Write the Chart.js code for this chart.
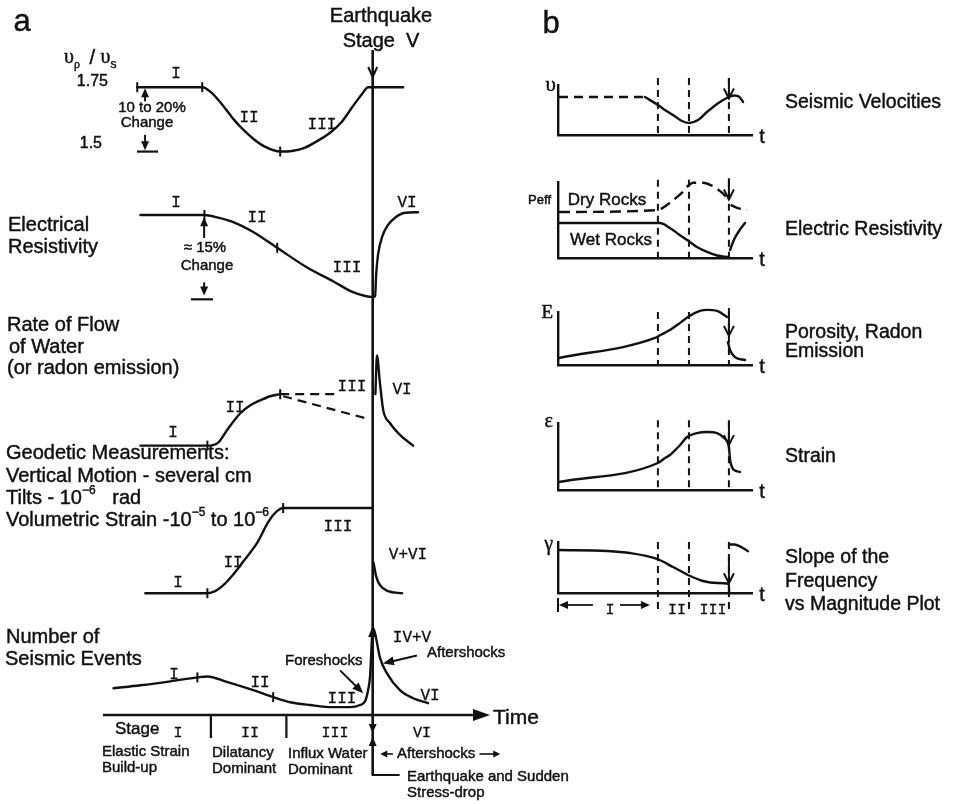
<!DOCTYPE html>
<html>
<head>
<meta charset="utf-8">
<title>Dilatancy-diffusion model: precursory phenomena</title>
<script src="https://cdn.jsdelivr.net/npm/chart.js@4.4.1/dist/chart.umd.min.js"></script>
<style>
  html, body { margin:0; padding:0; background:#fff; }
  #wrap { position:relative; width:958px; height:804px; background:#fff; overflow:hidden; }
  #wrap canvas { position:absolute; left:0; top:0; }
</style>
</head>
<body>
<div id="wrap">
  <canvas id="ca" width="958" height="804"></canvas>
  <canvas id="cb1" width="958" height="804"></canvas>
  <canvas id="cb2" width="958" height="804"></canvas>
  <canvas id="cb3" width="958" height="804"></canvas>
  <canvas id="cb4" width="958" height="804"></canvas>
  <canvas id="cb5" width="958" height="804"></canvas>
</div>
<script>
// ======================= DATA =======================
// ---- Part a : time in arbitrary units (0 = start of time axis, 100 = earthquake) ----
const aStageBounds = [40, 68, 100];          // start of stage II, start of stage III, earthquake
const aTimeMax = 143.5;
const aStageNames = ['I', 'II', 'III', 'VI'];
const aStageNameTimes = [27.8, 54.5, 86, 118.3];

// vp / vs ratio
const vpvs = [[12.7,1.75],[36.8,1.75],[40,1.731],[44,1.685],[48.3,1.627],[52,1.585],[55.7,1.55],[60,1.519],
  [65.7,1.5],[70,1.502],[74.2,1.512],[79,1.538],[84.2,1.573],[88.5,1.615],[92.7,1.677],[96,1.723],[98.3,1.75],[111.3,1.75]];
const vpvsTicks = [[12.7,1.75],[36.8,1.75],[65.7,1.5]];

// electrical resistivity (% of initial value)
const resistivity = [[13.9,100],[37.6,100],[42.7,99.5],[48.3,98.7],[55.7,96.9],[64.6,94.0],[75.7,90.4],[85.3,87.9],
  [92.7,85.9],[97.2,85.2],[100.1,85.0],[100.9,85.2],[101.3,89.2],[102,92.8],[103.5,96.0],[105.7,98.2],[108.3,99.5],[112,100.4],[116.8,100.5]];
const resistivityTicks = [[37.6,100],[64.6,94.0]];

// rate of flow of water (relative)
const flowRise = [[13.9,1.0],[38.7,1.0],[42.7,1.06],[46.1,1.31],[50.9,1.63],[54.5,1.78],[58.3,1.88],[62,1.96],[65.7,2.0]];
const flowUpper = [[65.7,2.0],[86.8,2.0]];
const flowLower = [[66.8,1.96],[98.3,1.52]];
const flowAfter = [[101.0,2.0],[101.6,2.75],[102.7,2.21],[103.9,1.69],[106.4,1.44],[110.1,1.21],[115,1.0]];
const flowTicks = [[38.7,1.0],[65.7,2.0]];

// geodetic (vertical motion, cm)
const geoBefore = [[15.7,0],[38.7,0],[41.6,0.12],[44.2,0.41],[48.3,1.10],[52,1.86],[57.2,2.97],[61.3,4.19],[64.2,4.77],[66.8,5.0],[99.8,5.0]];
const geoAfter = [[100.3,1.8],[101.3,0.99],[102.7,0.47],[105.7,0.12],[110.9,0]];
const geoTicks = [[38.7,0],[66.8,5.0]];

// number of seismic events
const seismic = [[3.9,14.2],[13.9,15.8],[25,17.9],[35,20],[38.7,20.5],[45.3,17.9],[55.7,13.2],[63.1,9.5],[69.4,6.8],[76.8,5.3],
  [85.3,4.2],[91.6,4.2],[95.3,5.3],[97.2,7.4],[98.3,13.2],[99.0,20],[100.1,46.3],[100.9,43.2],[102.7,30.5],[105.3,22.1],[110.1,13.2],[115,8.9],[120.5,6.3]];
const seismicTicks = [[35,20],[63.1,9.5]];

// ---- Part b : time 0..100, each quantity 0..10 (axis height) ----
const bStages = [51.5, 67.5, 88.1];
const bStageNames = ['I', 'II', 'III'];
const bStageNameTimes = [26.8, 61.3, 79.9];

const velPre  = [[0.5,7.6],[44.8,7.6]];
const velMain = [[44.8,7.6],[51.5,6.0],[55.5,4.9],[59.3,4.0],[63.9,2.8],[67.5,2.4],[72.2,3.0],[76.8,4.6],[83.5,6.6],[88.1,7.6],[91,7.9],[93.5,7.6],[95.4,6.6]];
const dryPre  = [[0.5,6.05],[51,6.3],[54,6.6],[59.3,7.6],[64.4,8.7],[67.5,9.6],[69.6,9.9],[74.7,9.9],[79.4,9.5],[84.5,8.6],[87.6,7.8]];
const dryPost = [[89,7.0],[92.3,6.6],[97.4,6.3]];
const wetPre  = [[0.5,4.6],[52.6,4.6],[57.7,3.95],[62.9,3.0],[67.5,2.2],[71.6,1.45],[76.8,0.8],[82,0.33],[87.6,0.13]];
const wetPost = [[88.7,1.05],[90.7,2.4],[93.3,3.55],[96.4,4.6]];
const poroPre  = [[0.5,1.32],[50,5.1],[53,5.7],[57.7,6.6],[62,7.7],[67,9.06],[73.2,10.2],[76.8,10.4],[82,10.2],[87.1,9.06]];
const poroPost = [[87.6,4.3],[88.7,2.8],[91.2,1.5],[96.4,0.94]];
const strain = [[0.5,1.19],[51.5,4.03],[55.2,4.78],[57.7,5.22],[62.9,6.7],[66.5,7.9],[71.6,8.5],[76.8,8.66],[82,8.5],[85.6,7.76],
  [88.1,6.4],[88.7,4.5],[89.7,3.4],[91.2,2.9],[93.8,2.7]];
const slopePre  = [[0.5,8.43],[25.3,8.24],[37.1,7.84],[51,6.67],[59.3,5.1],[67,3.53],[74.7,2.35],[82,1.96],[88.1,1.76],[88.2,0]];
const slopePost = [[88.6,9.5],[91,9.5],[94,9.1],[97.9,8.2]];

// ======================= STYLE / LAYOUT =======================
const INK = '#111111';
const SANS = '"Liberation Sans", Arial, Helvetica, sans-serif';
const SERIF = '"Liberation Serif", "Times New Roman", serif';
const MONO = '"Liberation Mono", "Courier New", monospace';

// part a: plot area and, for each curve, two (value, pixel-row) anchors that place it on the page
const aLayout = { left:103, right:490, top:0, bottom:715,
  yV:[1.75,81,1.5,146], yR:[100,210,85,293], yF:[1,443,2,391], yG:[0,592,5,506], yS:[0,715,20,677] };

function axisFromAnchors(a, top, bottom) {
  const [v1, p1, v2, p2] = a;
  const upp = (v1 - v2) / (p2 - p1);
  const max = v1 + (p1 - top) * upp;
  return { min: max - (bottom - top) * upp, max };
}
const xy = arr => arr.map(([x, y]) => ({ x, y }));

function lineDs(data, yAxisID, opts = {}) {
  return { data: xy(data), yAxisID, xAxisID: 'x', borderColor: INK, borderWidth: opts.width || 2.4,
    borderDash: opts.dash || [], borderCapStyle: opts.dash ? 'butt' : 'round', borderJoinStyle: 'round',
    pointRadius: 0, fill: false, cubicInterpolationMode: 'monotone', clip: false };
}
function tickDs(data, yAxisID) {
  return { data: xy(data), yAxisID, xAxisID: 'x', showLine: false, pointStyle: 'line', rotation: 90,
    pointRadius: 5, pointBorderWidth: 2, pointBorderColor: INK, borderColor: INK, clip: false };
}

// ---------- drawing helpers ----------
function seg(ctx, x1, y1, x2, y2, w) { ctx.lineWidth = w; ctx.beginPath(); ctx.moveTo(x1, y1); ctx.lineTo(x2, y2); ctx.stroke(); }
function head(ctx, x, y, ang, len, half, filled) {
  const bx = x - len * Math.cos(ang), by = y - len * Math.sin(ang);
  const px = -Math.sin(ang) * half, py = Math.cos(ang) * half;
  ctx.beginPath(); ctx.moveTo(bx + px, by + py); ctx.lineTo(x, y); ctx.lineTo(bx - px, by - py);
  if (filled) { ctx.closePath(); ctx.fill(); } else { ctx.lineWidth = 2; ctx.stroke(); }
}
function arrow(ctx, x1, y1, x2, y2, w, len, half, filled) {
  const ang = Math.atan2(y2 - y1, x2 - x1);
  seg(ctx, x1, y1, x2 - Math.cos(ang) * (filled ? len * 0.6 : 0), y2 - Math.sin(ang) * (filled ? len * 0.6 : 0), w);
  head(ctx, x2, y2, ang, len, half, filled);
}
const TEXT_STROKE = 0.45;   // slightly heavier lettering, like the printed original
function txt(ctx, s, x, y, size, family, align, stroke) {
  ctx.font = `${size}px ${family || SANS}`;
  ctx.textAlign = align || 'left'; ctx.textBaseline = 'middle';
  ctx.fillText(s, x, y);
  const sw = stroke === undefined ? TEXT_STROKE : stroke;
  if (sw > 0) { ctx.lineWidth = sw; ctx.strokeText(s, x, y); }
}
function rich(ctx, x, y, parts, size, family) {
  let cx = x; ctx.textAlign = 'left'; ctx.textBaseline = 'middle';
  for (const p of parts) {
    const small = p.sup || p.sub;
    const sz = small ? Math.round(size * 0.62) : size;
    ctx.font = `${sz}px ${p.family || family}`;
    const dy = p.sup ? -size * 0.36 : p.sub ? size * 0.34 : 0;
    ctx.fillText(p.s, cx, y + dy);
    ctx.lineWidth = TEXT_STROKE; ctx.strokeText(p.s, cx, y + dy);
    cx += ctx.measureText(p.s).width + (p.gap || 0);
  }
}

// ---------- part a texts (page positions) ----------
const aTexts = [
  ['a', 22, 22, 31, SANS, 'center'],
  ['Earthquake', 381, 16, 20, SANS, 'center'],
  ['Stage  V', 381, 41, 20, SANS, 'center'],
  ['1.75', 108, 82, 16, SANS, 'right'],
  ['1.5', 102, 144, 16, SANS, 'right'],
  ['10 to 20%', 152, 108, 15, SANS, 'center'],
  ['Change', 147, 123, 15, SANS, 'center'],
  ['Electrical', 8, 225, 20, SANS, 'left'],
  ['Resistivity', 8, 247, 20, SANS, 'left'],
  ['\u2248 15%', 205, 248, 15, SANS, 'center'],
  ['Change', 207, 266, 15, SANS, 'center'],
  ['Rate of Flow', 7, 325, 20, SANS, 'left'],
  ['of Water', 9, 347, 20, SANS, 'left'],
  ['(or radon emission)', 7, 368, 20, SANS, 'left'],
  ['Geodetic Measurements:', 6, 453, 20, SANS, 'left'],
  ['Vertical Motion - several cm', 6, 476, 20, SANS, 'left'],
  ['Number of', 6, 637, 20, SANS, 'left'],
  ['Seismic Events', 5, 659, 20, SANS, 'left'],
  ['Foreshocks', 285, 661, 15, SANS, 'left'],
  ['Aftershocks', 427, 653, 15, SANS, 'left'],
  ['Time', 493, 718, 21, SANS, 'left'],
  ['Stage', 115, 729, 17, SANS, 'left'],
  ['Elastic Strain', 102, 752, 15, SANS, 'left'],
  ['Build-up', 102, 768, 15, SANS, 'left'],
  ['Dilatancy', 212, 753, 15, SANS, 'left'],
  ['Dominant', 212, 769, 15, SANS, 'left'],
  ['Influx Water', 288, 754, 15, SANS, 'left'],
  ['Dominant', 288, 770, 15, SANS, 'left'],
  ['Aftershocks', 397, 754, 15, SANS, 'left'],
  ['Earthquake and Sudden', 407, 777, 15, SANS, 'left'],
  ['Stress-drop', 407, 793, 15, SANS, 'left'],
];
const aRoman = [
  ['I',176,74],['II',249,118],['III',322,125],
  ['I',176,203],['II',257,218],['III',347,268],['VI',407,203],
  ['I',173,433],['II',235,408],['III',352,387],['VI',402,390],
  ['I',178,583],['II',233,563],['III',338,527],['V+VI',408,555],
  ['I',174,675],['II',260,683],['III',342,699],['VI',430,696],['IV+V',412,638],
];

const annotA = {
  id: 'annotA',
  afterDatasetsDraw(chart) {
    const ctx = chart.ctx, xs = chart.scales.x;
    const X = v => xs.getPixelForValue(v);
    const Y = (id, v) => chart.scales[id].getPixelForValue(v);
    const yAxis = aLayout.bottom;
    ctx.save();
    ctx.strokeStyle = INK; ctx.fillStyle = INK; ctx.lineCap = 'butt';
    const xEq = X(aStageBounds[2]);

    // earthquake line + arrow from "Stage V"
    seg(ctx, xEq, 50, xEq, 775, 2.6);
    head(ctx, xEq, 77, Math.PI / 2, 10, 4.5, false);
    // time axis
    arrow(ctx, X(0), yAxis, X(aTimeMax), yAxis, 2.4, 17, 6, true);
    // stage dividers
    for (const b of aStageBounds.slice(0, 2)) seg(ctx, X(b), yAxis, X(b), yAxis + 23, 2.2);
    // arrowheads on earthquake line at the axis, L-shaped pointer
    head(ctx, xEq, yAxis + 18, Math.PI / 2, 9, 4, true);
    head(ctx, xEq, yAxis + 22, -Math.PI / 2, 9, 4, true);
    seg(ctx, xEq - 1, 775, X(110), 775, 2);
    // arrow at seismic peak
    head(ctx, xEq, Y('yS', 47.3), -Math.PI / 2, 11, 4.5, true);

    // change markers (vp/vs)
    const xc1 = X(15.6);
    arrow(ctx, xc1, Y('yV', 1.695), xc1, Y('yV', 1.746), 2, 9, 4, true);
    arrow(ctx, xc1, Y('yV', 1.565), xc1, Y('yV', 1.505), 2, 9, 4, true);
    seg(ctx, X(12.6), Y('yV', 1.5), X(20.4), Y('yV', 1.5), 2.2);
    // change markers (resistivity)
    const xc2 = X(37.5);
    arrow(ctx, xc2, Y('yR', 95.8), xc2, Y('yR', 99.6), 2, 9, 4, true);
    arrow(ctx, xc2, Y('yR', 87.7), xc2, Y('yR', 85.3), 2, 9, 4, true);
    seg(ctx, X(32.6), Y('yR', 84.6), X(40.8), Y('yR', 84.6), 2.2);

    // foreshocks / aftershocks pointers
    arrow(ctx, X(87.9), Y('yS', 23.7), X(96.5), Y('yS', 11.5), 2, 11, 4.5, true);
    arrow(ctx, X(116.4), Y('yS', 31.6), X(103.8), Y('yS', 27.4), 2, 11, 4.5, true);
    // "<- Aftershocks ->" below axis
    arrow(ctx, X(107.5), 754, X(102.8), 754, 1.6, 7, 3.5, true);
    arrow(ctx, X(139.6), 754, X(147.3), 754, 1.6, 7, 3.5, true);

    // texts
    for (const [s, x, y, size, fam, al] of aTexts) txt(ctx, s, x, y, size, fam, al);
    rich(ctx, 64, 58, [{s:'\u03C5', family: SERIF}, {s:'\u03C1', sub:true, family: SERIF, gap:4}, {s:' / '}, {s:'\u03C5', family: SERIF}, {s:'s', sub:true}], 20, SANS);
    rich(ctx, 6, 498, [{s:'Tilts - 10'}, {s:'\u22126', sup:true}, {s:'   rad'}], 20, SANS);
    rich(ctx, 6, 520, [{s:'Volumetric Strain -10'}, {s:'\u22125', sup:true}, {s:' to 10'}, {s:'\u22126', sup:true}], 20, SANS);
    for (const [s, x, y] of aRoman) txt(ctx, s, x, y, 16, MONO, 'center', 0.3);
    aStageNames.forEach((s, i) => txt(ctx, s, X(aStageNameTimes[i]), yAxis + 18, 15, MONO, 'center', 0.3));
    ctx.restore();
  }
};

const aScales = { x: { type: 'linear', display: false, min: 0, max: aTimeMax } };
for (const id of ['yV', 'yR', 'yF', 'yG', 'yS'])
  aScales[id] = Object.assign({ type: 'linear', axis: 'y', display: false }, axisFromAnchors(aLayout[id], aLayout.top, aLayout.bottom));

new Chart(document.getElementById('ca'), {
  type: 'line',
  data: { datasets: [
    lineDs(vpvs, 'yV'), tickDs(vpvsTicks, 'yV'),
    lineDs(resistivity, 'yR'), tickDs(resistivityTicks, 'yR'),
    lineDs(flowRise, 'yF'), lineDs(flowUpper, 'yF', {dash:[9,6], width:2.2}), lineDs(flowLower, 'yF', {dash:[9,6], width:2.2}),
    lineDs(flowAfter, 'yF'), tickDs(flowTicks, 'yF'),
    lineDs(geoBefore, 'yG'), lineDs(geoAfter, 'yG'), tickDs(geoTicks, 'yG'),
    lineDs(seismic, 'yS'), tickDs(seismicTicks, 'yS'),
  ] },
  options: {
    responsive: false, animation: false, devicePixelRatio: 1, events: [],
    layout: { padding: { left: aLayout.left, right: 958 - aLayout.right, top: aLayout.top, bottom: 804 - aLayout.bottom } },
    plugins: { legend: { display: false }, tooltip: { enabled: false } },
    scales: aScales
  },
  plugins: [annotA]
});

// ======================= PART b =======================
const bBox = { left: 558, right: 752 };
const bPanels = [
  { id:'cb1', top:85, bottom:135, sym:['\u03C5', 556, 85, 21, SERIF], desc:[['Seismic Velocities', 103]],
    lineTop:11.4, arrow:[11.4, 7.3], series:[[velPre, [9,6]], [velMain]] },
  { id:'cb2', top:182, bottom:258, sym:['Peff', 551, 200, 13, SANS], desc:[['Electric Resistivity', 230]],
    lineTop:10.3, arrow:[10.5, 7.7], series:[[dryPre, [11,6]], [dryPost, [11,6]], [wetPre], [wetPost]],
    extra:[['Dry Rocks', 607, 200], ['Wet Rocks', 611, 240]] },
  { id:'cb3', top:312, bottom:365, sym:['E', 553, 313, 19, SERIF], desc:[['Porosity, Radon', 333], ['Emission', 352]],
    lineTop:10, arrow:[10.75, 5.5], series:[[poroPre], [poroPost]] },
  { id:'cb4', top:423, bottom:490, sym:['\u03B5', 553, 422, 20, SERIF], desc:[['Strain', 457]],
    lineTop:10.4, arrow:[10.1, 6.7], series:[[strain]] },
  { id:'cb5', top:542, bottom:593, sym:['\u03B3', 553, 545, 20, SERIF], desc:[['Slope of the', 558], ['Frequency', 582], ['vs Magnitude Plot', 605]],
    lineTop:10, lineBottom:-3.7, arrow:[7.06, 1.9], series:[[slopePre], [slopePost]], stageLabels:true },
];

function panelPlugin(p) {
  return {
    id: 'panel_' + p.id,
    afterDatasetsDraw(chart) {
      const ctx = chart.ctx, ca = chart.chartArea;
      const X = v => chart.scales.x.getPixelForValue(v), Y = v => chart.scales.y.getPixelForValue(v);
      ctx.save();
      ctx.strokeStyle = INK; ctx.fillStyle = INK;
      ctx.setLineDash([7, 5]); ctx.lineWidth = 2;
      for (const s of bStages) { ctx.beginPath(); ctx.moveTo(X(s), Y(p.lineTop)); ctx.lineTo(X(s), Y(p.lineBottom || 0)); ctx.stroke(); }
      ctx.setLineDash([]);
      const xe = X(bStages[2]);
      arrow(ctx, xe, Y(p.arrow[0]), xe, Y(p.arrow[1]), 2, 10, 5, false);
      const [sym, sx, sy, ss, sf] = p.sym;
      txt(ctx, sym, sx, sy, ss, sf, 'right');
      txt(ctx, 't', ca.right + 10, ca.bottom + 2, 20, SANS, 'center');
      for (const [s, y] of p.desc) txt(ctx, s, 785, y, 19.5, SANS, 'left');
      for (const [s, x, y] of (p.extra || [])) txt(ctx, s, x, y, 17, SANS, 'center');
      if (p.stageLabels) {
        const yl = ca.bottom + 12;
        seg(ctx, X(0), yl - 7, X(0), yl + 7, 2);
        arrow(ctx, X(18), yl, X(0) + 1, yl, 1.8, 9, 4, true);
        arrow(ctx, X(32), yl, X(47.4), yl, 1.8, 9, 4, true);
        bStageNames.forEach((s, i) => txt(ctx, s, X(bStageNameTimes[i]), yl + 5, 15, MONO, 'center', 0.3));
      }
      if (p.id === 'cb1') txt(ctx, 'b', 551, 24, 31, SANS, 'center');
      ctx.restore();
    }
  };
}

for (const p of bPanels) {
  new Chart(document.getElementById(p.id), {
    type: 'line',
    data: { datasets: p.series.map(([d, dash]) => ({
      data: xy(d), borderColor: INK, borderWidth: 2.4, borderDash: dash || [], borderCapStyle: dash ? 'butt' : 'round',
      pointRadius: 0, fill: false, cubicInterpolationMode: 'monotone', clip: false })) },
    options: {
      responsive: false, animation: false, devicePixelRatio: 1, events: [],
      layout: { padding: { left: bBox.left, right: 958 - bBox.right, top: p.top, bottom: 804 - p.bottom } },
      plugins: { legend: { display: false }, tooltip: { enabled: false } },
      scales: {
        x: { type: 'linear', min: 0, max: 100, grid: { display: false, drawTicks: false }, ticks: { display: false }, border: { display: true, color: INK, width: 2.4 } },
        y: { type: 'linear', min: 0, max: 10, grid: { display: false, drawTicks: false }, ticks: { display: false }, border: { display: true, color: INK, width: 2.4 } }
      }
    },
    plugins: [panelPlugin(p)]
  });
}
</script>
</body>
</html>
